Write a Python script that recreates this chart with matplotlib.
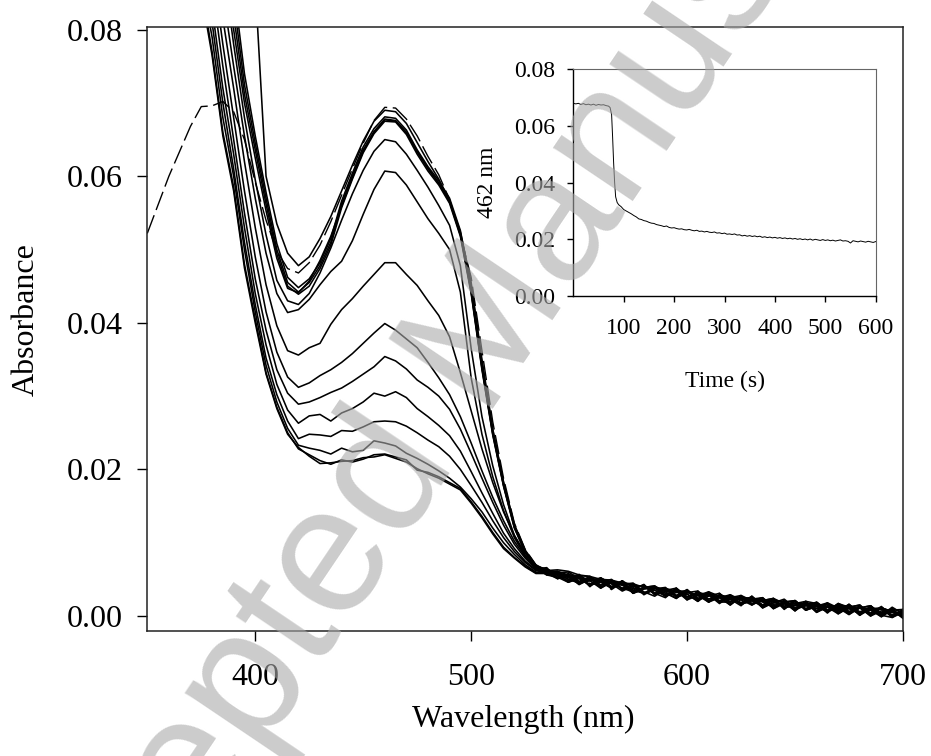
import matplotlib
matplotlib.use('Agg')
import matplotlib.pyplot as plt

plt.rcParams['font.family'] = 'Liberation Serif'

# wavelength grid (nm): 350-530 for the band region, 535-700 every 5 nm
wl_band = [350, 360, 370, 375, 380, 385, 390, 395, 400, 405,
           410, 415, 420, 425, 430, 435, 440, 445, 450, 455,
           460, 465, 470, 475, 480, 485, 490, 495, 500, 505,
           510, 515, 520, 525, 530]
wl_tail = [535, 540, 545, 550, 555, 560, 565, 570, 575, 580,
           585, 590, 595, 600, 605, 610, 615, 620, 625, 630,
           635, 640, 645, 650, 655, 660, 665, 670, 675, 680,
           685, 690, 695, 700]
wavelength = wl_band + wl_tail

# dashed spectrum (before mixing)
spec_initial = [.0522, .0600, .0668, .0695, .0696, .0702, .0688, .0650, .0592, .0540,
                .0498, .0474, .0468, .0482, .0506, .0538, .0574, .0610, .0645, .0676,
                .0694, .0693, .0678, .0655, .0627, .0602, .0568, .0520, .0462, .0362,
                .0265, .0188, .0127, .0091, .0070]
tail_initial = [.0062, .0061, .0048, .0057, .0044, .0048, .0036, .0046, .0037, .0043,
                .0029, .0033, .0036, .0024, .0030, .0023, .0031, .0017, .0022, .0025,
                .0011, .0020, .0015, .0019, .0008, .0019, .0008, .0013, .0002, .0013,
                .0008, .0001, .0008, .0001]

# spectra after mixing, band region
spec_01 = [.165, .155, .142, .135, .127, .118, .108, .097, .086, .0600,
           .0535, .0495, .0478, .0490, .0515, .0545, .0580, .0615, .0648, .0675,
           .0690, .0688, .0672, .0646, .0620, .0596, .0566, .0524, .0455, .0350,
           .0255, .0182, .0124, .0089, .0069]
spec_02 = [.150, .138, .124, .116, .107, .097, .086, .0740, .0655, .0578,
           .0508, .0462, .0448, .0460, .0482, .0515, .0566, .0604, .0640, .0665,
           .0681, .0679, .0663, .0636, .0613, .0594, .0570, .0526, .0450, .0345,
           .0254, .0183, .0125, .0090, .0069]
spec_03 = [.148, .136, .122, .114, .105, .095, .084, .0725, .0645, .0570,
           .0500, .0455, .0442, .0455, .0478, .0510, .0562, .0600, .0636, .0661,
           .0678, .0676, .0660, .0633, .0610, .0591, .0567, .0522, .0444, .0340,
           .0250, .0179, .0122, .0088, .0068]
spec_04 = [.146, .134, .120, .112, .103, .093, .082, .0712, .0636, .0562,
           .0494, .0450, .0439, .0450, .0474, .0506, .0557, .0596, .0632, .0658,
           .0675, .0674, .0657, .0630, .0607, .0588, .0563, .0518, .0440, .0336,
           .0247, .0177, .0120, .0087, .0067]
spec_05 = [.144, .132, .118, .110, .101, .091, .080, .0700, .0625, .0553,
           .0488, .0447, .0441, .0457, .0485, .0518, .0559, .0598, .0634, .0660,
           .0677, .0675, .0659, .0634, .0611, .0590, .0565, .0520, .0442, .0338,
           .0248, .0178, .0121, .0087, .0067]
spec_06 = [.140, .128, .114, .106, .098, .089, .0780, .0680, .0595, .0520,
           .0458, .0430, .0425, .0440, .0468, .0502, .0540, .0576, .0608, .0634,
           .0650, .0647, .0630, .0608, .0585, .0560, .0533, .0478, .0365, .0272,
           .0205, .0152, .0110, .0083, .0066]
spec_07 = [.137, .125, .111, .103, .095, .0850, .0750, .0655, .0570, .0495,
           .0440, .0414, .0418, .0432, .0452, .0470, .0484, .0512, .0548, .0582,
           .0607, .0605, .0588, .0565, .0542, .0522, .0500, .0442, .0325, .0248,
           .0190, .0144, .0107, .0082, .0065]
spec_08 = [.133, .121, .106, .099, .0920, .0815, .0720, .0620, .0530, .0452,
           .0396, .0362, .0356, .0366, .0372, .0398, .0418, .0433, .0450, .0466,
           .0482, .0482, .0466, .0451, .0430, .0410, .0381, .0332, .0280, .0228,
           .0182, .0142, .0110, .0086, .0069]
spec_09 = [.129, .117, .102, .096, .0890, .0780, .0680, .0580, .0490, .0415,
           .0360, .0326, .0312, .0318, .0328, .0336, .0346, .0358, .0372, .0386,
           .0399, .0390, .0378, .0366, .0346, .0325, .0302, .0272, .0236, .0198,
           .0162, .0130, .0102, .0081, .0066]
spec_10 = [.126, .114, .099, .093, .0860, .0750, .0650, .0550, .0460, .0390,
           .0336, .0304, .0289, .0292, .0298, .0305, .0311, .0320, .0330, .0340,
           .0354, .0348, .0337, .0322, .0312, .0300, .0282, .0255, .0222, .0188,
           .0155, .0124, .0098, .0079, .0064]
spec_11 = [.123, .111, .097, .091, .0830, .0720, .0630, .0530, .0440, .0370,
           .0316, .0281, .0263, .0273, .0275, .0266, .0277, .0283, .0292, .0304,
           .0300, .0306, .0298, .0283, .0272, .0260, .0246, .0225, .0197, .0168,
           .0140, .0113, .0092, .0075, .0063]
spec_12 = [.121, .109, .095, .089, .0810, .0700, .0610, .0510, .0425, .0352,
           .0302, .0266, .0242, .0248, .0247, .0245, .0253, .0252, .0258, .0265,
           .0266, .0265, .0259, .0250, .0240, .0231, .0218, .0200, .0178, .0155,
           .0130, .0107, .0088, .0073, .0062]
spec_13 = [.119, .107, .093, .087, .0790, .0680, .0600, .0500, .0415, .0342,
           .0292, .0256, .0233, .0229, .0226, .0221, .0229, .0224, .0226, .0239,
           .0236, .0232, .0222, .0215, .0207, .0198, .0188, .0176, .0160, .0142,
           .0120, .0100, .0084, .0070, .0060]
spec_14 = [.117, .105, .091, .086, .0770, .0660, .0585, .0480, .0405, .0332,
           .0285, .0250, .0228, .0220, .0212, .0207, .0213, .0210, .0214, .0220,
           .0221, .0217, .0213, .0199, .0196, .0190, .0182, .0174, .0156, .0136,
           .0114, .0094, .0080, .0068, .0059]
spec_15 = [.116, .104, .090, .085, .0765, .0655, .0580, .0475, .0400, .0330,
           .0283, .0248, .0230, .0218, .0208, .0209, .0211, .0212, .0216, .0217,
           .0220, .0215, .0210, .0201, .0194, .0188, .0180, .0172, .0154, .0134,
           .0112, .0092, .0079, .0067, .0058]

# the same spectra, 535-700 nm (noisy baseline)
tail_01 = [.0058, .0051, .0058, .0047, .0054, .0040, .0046, .0038, .0043, .0029,
           .0037, .0039, .0026, .0030, .0020, .0031, .0021, .0025, .0028, .0015,
           .0023, .0014, .0019, .0007, .0020, .0007, .0016, .0011, .0004, .0011,
           .0000, .0007, .0002, .0007]
tail_02 = [.0060, .0059, .0054, .0043, .0050, .0050, .0038, .0048, .0031, .0037,
           .0039, .0027, .0034, .0034, .0024, .0029, .0017, .0027, .0018, .0023,
           .0025, .0010, .0017, .0017, .0010, .0017, .0004, .0017, .0010, .0003,
           .0012, .0003, .0008, -.0003]
tail_03 = [.0064, .0053, .0046, .0053, .0042, .0046, .0050, .0036, .0041, .0041,
           .0031, .0025, .0038, .0026, .0032, .0021, .0027, .0023, .0014, .0027,
           .0015, .0022, .0011, .0015, .0018, .0005, .0014, .0005, .0016, .0005,
           .0010, .0011, -.0002, .0005]
tail_04 = [.0056, .0057, .0056, .0055, .0040, .0052, .0044, .0038, .0033, .0039,
           .0041, .0033, .0024, .0034, .0028, .0033, .0019, .0019, .0026, .0017,
           .0021, .0024, .0009, .0021, .0008, .0013, .0018, .0003, .0012, .0015,
           .0002, .0011, .0006, -.0001]
tail_05 = [.0062, .0059, .0050, .0045, .0052, .0038, .0048, .0044, .0035, .0031,
           .0035, .0037, .0034, .0022, .0034, .0019, .0025, .0027, .0016, .0021,
           .0013, .0018, .0023, .0011, .0016, .0017, .0006, .0011, .0014, .0001,
           .0014, .0001, -.0002, .0007]
tail_06 = [.0058, .0061, .0052, .0053, .0042, .0050, .0040, .0048, .0031, .0039,
           .0035, .0027, .0038, .0026, .0030, .0019, .0029, .0023, .0018, .0027,
           .0013, .0022, .0013, .0017, .0020, .0005, .0012, .0015, .0004, .0013,
           .0004, .0013, .0000, .0005]
tail_07 = [.0064, .0055, .0048, .0055, .0048, .0038, .0046, .0046, .0035, .0043,
           .0029, .0037, .0028, .0032, .0034, .0023, .0027, .0015, .0026, .0021,
           .0025, .0012, .0019, .0011, .0018, .0013, .0006, .0017, .0012, .0005,
           .0012, .0001, .0012, .0003]
tail_08 = [.0062, .0063, .0061, .0056, .0054, .0050, .0049, .0045, .0044, .0039,
           .0038, .0037, .0033, .0033, .0028, .0029, .0026, .0022, .0024, .0021,
           .0020, .0016, .0018, .0014, .0014, .0010, .0012, .0009, .0011, .0006,
           .0008, .0005, .0005, .0002]
tail_09 = [.0056, .0053, .0056, .0043, .0052, .0046, .0038, .0048, .0039, .0031,
           .0039, .0031, .0024, .0036, .0024, .0029, .0025, .0029, .0016, .0021,
           .0023, .0010, .0019, .0021, .0008, .0013, .0016, .0007, .0016, .0003,
           .0008, -.0001, .0008, .0009]
tail_10 = [.0066, .0051, .0054, .0053, .0042, .0052, .0044, .0034, .0041, .0041,
           .0031, .0035, .0038, .0022, .0028, .0031, .0019, .0025, .0026, .0017,
           .0021, .0024, .0011, .0015, .0018, .0007, .0018, .0011, .0002, .0011,
           .0014, .0003, .0008, -.0001]
tail_11 = [.0060, .0057, .0046, .0051, .0050, .0042, .0048, .0042, .0033, .0039,
           .0041, .0027, .0032, .0034, .0022, .0027, .0031, .0019, .0024, .0025,
           .0011, .0018, .0021, .0009, .0014, .0019, .0008, .0013, .0014, .0001,
           .0010, .0009, .0000, .0009]
tail_12 = [.0062, .0051, .0056, .0047, .0052, .0048, .0038, .0044, .0043, .0033,
           .0027, .0037, .0034, .0026, .0032, .0029, .0019, .0029, .0022, .0015,
           .0023, .0020, .0013, .0021, .0008, .0015, .0012, .0003, .0012, .0015,
           .0002, .0011, .0006, .0001]
tail_13 = [.0058, .0059, .0060, .0051, .0042, .0050, .0046, .0042, .0045, .0031,
           .0039, .0029, .0036, .0030, .0020, .0033, .0027, .0019, .0026, .0023,
           .0013, .0024, .0017, .0009, .0020, .0017, .0006, .0015, .0006, .0011,
           .0014, .0001, .0010, -.0003]
tail_14 = [.0064, .0057, .0050, .0055, .0054, .0042, .0048, .0036, .0041, .0041,
           .0031, .0037, .0026, .0032, .0028, .0019, .0029, .0025, .0016, .0025,
           .0019, .0012, .0019, .0021, .0010, .0015, .0016, .0005, .0010, .0013,
           .0000, .0011, .0006, -.0001]
tail_15 = [.0058, .0061, .0056, .0045, .0048, .0052, .0040, .0044, .0031, .0037,
           .0039, .0035, .0028, .0036, .0022, .0031, .0025, .0015, .0028, .0021,
           .0015, .0022, .0019, .0007, .0018, .0013, .0006, .0017, .0006, .0011,
           .0010, -.0001, .0010, .0005]

spectra = [spec_01 + tail_01, spec_02 + tail_02, spec_03 + tail_03, spec_04 + tail_04,
           spec_05 + tail_05, spec_06 + tail_06, spec_07 + tail_07, spec_08 + tail_08,
           spec_09 + tail_09, spec_10 + tail_10, spec_11 + tail_11, spec_12 + tail_12,
           spec_13 + tail_13, spec_14 + tail_14, spec_15 + tail_15]

# inset: absorbance at 462 nm vs time
time_s = [0, 5, 10, 15, 20, 25, 30, 35, 40, 45, 50, 55, 60, 65, 70, 73, 76, 78, 80, 82,
          84, 87, 90, 95, 100, 105, 110, 115, 120, 125, 130, 135, 140, 145, 150, 155,
          160, 165, 170, 175, 180, 185, 190, 195, 200, 205, 210, 215, 220, 225, 230,
          235, 240, 245, 250, 255, 260, 265, 270, 275, 280, 285, 290, 295, 300, 305,
          310, 315, 320, 325, 330, 335, 340, 345, 350, 355, 360, 365, 370, 375, 380,
          385, 390, 395, 400, 405, 410, 415, 420, 425, 430, 435, 440, 445, 450, 455,
          460, 465, 470, 475, 480, 485, 490, 495, 500, 505, 510, 515, 520, 525, 530,
          535, 540, 545, 550, 555, 560, 565, 570, 575, 580, 585, 590, 595, 600]
a462 = [.0680, .0678, .0680, .0676, .0679, .0675, .0677, .0674, .0677, .0673, .0676,
        .0674, .0675, .0672, .0670, .0665, .0640, .0560, .0470, .0400, .0350, .0330,
        .0322, .0315, .0305, .0300, .0295, .0290, .0284, .0279, .0272, .0270, .0266,
        .0264, .0260, .0257, .0256, .0252, .0250, .0248, .0245, .0247, .0242, .0240,
        .0241, .0238, .0236, .0237, .0234, .0233, .0235, .0232, .0230, .0232, .0228,
        .0229, .0226, .0228, .0225, .0224, .0226, .0222, .0223, .0220, .0222, .0218,
        .0219, .0217, .0219, .0215, .0216, .0212, .0214, .0211, .0213, .0210, .0212,
        .0209, .0211, .0207, .0209, .0206, .0208, .0205, .0207, .0204, .0206, .0203,
        .0205, .0202, .0204, .0201, .0203, .0200, .0202, .0199, .0201, .0198, .0201,
        .0197, .0200, .0198, .0196, .0199, .0196, .0198, .0195, .0197, .0194, .0196,
        .0198, .0194, .0195, .0193, .0187, .0195, .0193, .0191, .0194, .0192, .0190,
        .0193, .0191, .0189, .0192]

fig = plt.figure(figsize=(9.31, 7.56), dpi=100)

# main panel
ax = fig.add_axes([0.1582, 0.1653, 0.8117, 0.7994])
for spec in spectra:
    ax.plot(wavelength, spec, color='black', lw=1.15)
ax.plot(wavelength, spec_initial + tail_initial, color='black', lw=1.0, dashes=(14, 4))

ax.set_xlim(350, 700)
ax.set_ylim(-0.00205, 0.0804)
ax.set_xticks([400, 500, 600, 700])
ax.set_yticks([0.0, 0.02, 0.04, 0.06, 0.08])
ax.set_yticklabels(['0.00', '0.02', '0.04', '0.06', '0.08'])
ax.tick_params(axis='x', direction='out', length=7, width=1, pad=16, labelsize=23)
ax.tick_params(axis='y', direction='out', length=7, width=1, pad=11, labelsize=23)
for s in ax.spines.values():
    s.set_linewidth(1.1)
    s.set_color('#222222')
ax.set_xlabel('Wavelength (nm)', fontsize=23)
ax.set_ylabel('Absorbance', fontsize=23)
ax.xaxis.set_label_coords(0.498, -0.122)
ax.yaxis.set_label_coords(-0.141, 0.515)

# inset panel
ins = fig.add_axes([0.6158, 0.6085, 0.3248, 0.2998])
ins.plot(time_s, a462, color='black', lw=0.7)
ins.set_xlim(0, 600)
ins.set_ylim(0, 0.08)
ins.set_xticks([100, 200, 300, 400, 500, 600])
ins.set_yticks([0.0, 0.02, 0.04, 0.06, 0.08])
ins.set_yticklabels(['0.00', '0.02', '0.04', '0.06', '0.08'])
ins.tick_params(axis='x', direction='out', length=4, width=1, pad=12, labelsize=17)
ins.tick_params(axis='y', direction='out', length=4, width=1, pad=9, labelsize=17)
ins.spines['left'].set_linewidth(1.0)
ins.spines['bottom'].set_linewidth(1.0)
ins.spines['top'].set_color('#666666')
ins.spines['right'].set_color('#666666')
ins.spines['top'].set_linewidth(0.8)
ins.spines['right'].set_linewidth(0.8)
ins.set_xlabel('Time (s)', fontsize=17)
ins.set_ylabel('462 nm', fontsize=17)
ins.xaxis.set_label_coords(0.50, -0.33)
ins.yaxis.set_label_coords(-0.25, 0.50)

# watermark
fig.text(0.503, 0.523, 'Accepted Manuscript', rotation=56, rotation_mode='anchor',
         ha='center', va='center', fontsize=131, family='Liberation Sans',
         color='#aaaaaa', alpha=0.6, zorder=10)

fig.savefig('out.png', dpi=100)
